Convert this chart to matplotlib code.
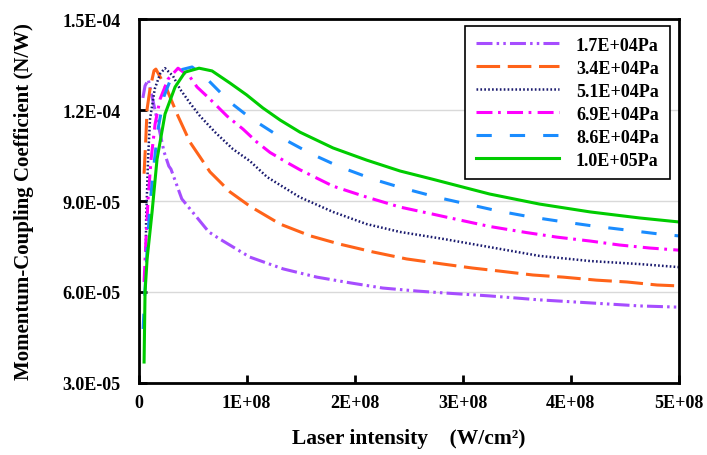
import matplotlib
matplotlib.use("Agg")
import matplotlib.pyplot as plt
from matplotlib.ticker import FuncFormatter, MultipleLocator

plt.rcParams['font.family'] = ['Liberation Serif', 'DejaVu Serif']
plt.rcParams['font.weight'] = 'bold'
plt.rcParams['axes.labelweight'] = 'bold'
plt.rcParams['lines.scale_dashes'] = False

# 데이터
labels = ["1.7E+04Pa", "3.4E+04Pa", "5.1E+04Pa", "6.9E+04Pa", "8.6E+04Pa", "1.0E+05Pa"]

x_17 = [4e6, 6e6, 9e6, 1.4e7, 2.36e7, 2.8e7, 3.0e7, 4.0e7, 6.5e7, 7.5e7, 1.03e8, 1.34e8, 1.65e8,
        1.96e8, 2.26e8, 2.58e8, 2.82e8, 3.25e8, 3.71e8, 4.18e8, 4.64e8, 5.0e8]
y_17 = [1.24e-4, 1.28e-4, 1.30e-4, 1.22e-4, 1.062e-4, 1.015e-4, 1.005e-4, 9.07e-5, 7.98e-5, 7.75e-5,
        7.15e-5, 6.76e-5, 6.49e-5, 6.30e-5, 6.13e-5, 6.03e-5, 5.97e-5, 5.87e-5, 5.74e-5, 5.64e-5,
        5.54e-5, 5.50e-5]

x_34 = [5.1e6, 6.7e6, 7.9e6, 1.06e7, 1.43e7, 1.6e7, 2.61e7, 3.65e7, 4.76e7, 5.69e7, 6.61e7, 7.54e7,
        8.46e7, 1.03e8, 1.31e8, 1.59e8, 1.86e8, 2.17e8, 2.48e8, 2.82e8, 3.09e8, 3.34e8, 3.65e8,
        3.93e8, 4.24e8, 4.52e8, 4.80e8, 5.0e8]
y_34 = [9.9e-5, 1.105e-4, 1.203e-4, 1.27e-4, 1.33e-4, 1.335e-4, 1.269e-4, 1.18e-4, 1.094e-4, 1.045e-4,
        9.96e-5, 9.63e-5, 9.30e-5, 8.83e-5, 8.24e-5, 7.85e-5, 7.58e-5, 7.32e-5, 7.09e-5, 6.92e-5,
        6.79e-5, 6.69e-5, 6.56e-5, 6.49e-5, 6.39e-5, 6.33e-5, 6.23e-5, 6.20e-5]

x_51 = [6.7e6, 7e6, 8.8e6, 1.06e7, 1.5e7, 2.0e7, 2.45e7, 3.19e7, 3.84e7, 4.76e7, 5.69e7, 7.08e7,
        8.74e7, 1.03e8, 1.19e8, 1.49e8, 1.80e8, 2.11e8, 2.42e8, 2.82e8, 3.25e8, 3.71e8, 4.18e8,
        4.64e8, 5.0e8]
y_51 = [7.32e-5, 8.4e-5, 1.04e-4, 1.17e-4, 1.27e-4, 1.32e-4, 1.338e-4, 1.312e-4, 1.269e-4, 1.223e-4,
        1.18e-4, 1.127e-4, 1.071e-4, 1.032e-4, 9.79e-5, 9.13e-5, 8.64e-5, 8.24e-5, 7.98e-5, 7.75e-5,
        7.48e-5, 7.19e-5, 7.02e-5, 6.92e-5, 6.82e-5]

x_69 = [5.1e6, 6.9e6, 8.8e6, 1.16e7, 1.53e7, 1.99e7, 2.73e7, 3.65e7, 4.76e7, 5.41e7, 6.61e7, 8.19e7,
        9.67e7, 1.096e8, 1.217e8, 1.374e8, 1.494e8, 1.80e8, 2.11e8, 2.42e8, 2.72e8, 2.86e8, 3.25e8,
        3.59e8, 3.87e8, 4.18e8, 4.45e8, 4.73e8, 5.0e8]
y_69 = [6.33e-5, 7.75e-5, 9.07e-5, 1.038e-4, 1.154e-4, 1.236e-4, 1.302e-4, 1.338e-4, 1.309e-4,
        1.276e-4, 1.236e-4, 1.18e-4, 1.137e-4, 1.094e-4, 1.060e-4, 1.027e-4, 1.003e-4, 9.49e-5,
        9.13e-5, 8.80e-5, 8.57e-5, 8.46e-5, 8.16e-5, 7.96e-5, 7.81e-5, 7.68e-5, 7.55e-5, 7.45e-5,
        7.38e-5]

x_86 = [4.2e6, 6e6, 7.9e6, 1.06e7, 1.43e7, 1.8e7, 2.36e7, 2.91e7, 3.84e7, 4.95e7, 6.15e7, 7.26e7,
        8.46e7, 1.03e8, 1.31e8, 1.59e8, 1.86e8, 2.17e8, 2.45e8, 2.79e8, 3.04e8, 3.33e8, 3.62e8,
        3.92e8, 4.20e8, 4.50e8, 4.80e8, 5.0e8]
y_86 = [4.78e-5, 6.1e-5, 7.42e-5, 8.9e-5, 1.022e-4, 1.137e-4, 1.246e-4, 1.296e-4, 1.332e-4, 1.342e-4,
        1.309e-4, 1.269e-4, 1.226e-4, 1.175e-4, 1.111e-4, 1.057e-4, 1.013e-4, 9.72e-5, 9.42e-5,
        9.10e-5, 8.90e-5, 8.67e-5, 8.48e-5, 8.32e-5, 8.18e-5, 8.05e-5, 7.92e-5, 7.85e-5]

x_100 = [5.1e6, 6e6, 7.9e6, 1.25e7, 1.71e7, 2.45e7, 3.38e7, 4.3e7, 5.6e7, 6.8e7, 8.46e7, 1.0e8,
         1.15e8, 1.31e8, 1.494e8, 1.80e8, 2.11e8, 2.42e8, 2.72e8, 3.25e8, 3.71e8, 4.18e8, 4.64e8, 5.0e8]
y_100 = [3.69e-5, 6.0e-5, 7.09e-5, 8.64e-5, 1.038e-4, 1.187e-4, 1.276e-4, 1.325e-4, 1.338e-4,
         1.329e-4, 1.289e-4, 1.250e-4, 1.207e-4, 1.167e-4, 1.127e-4, 1.075e-4, 1.035e-4, 9.99e-5,
         9.72e-5, 9.23e-5, 8.90e-5, 8.64e-5, 8.44e-5, 8.31e-5]

fig = plt.figure(figsize=(7.07, 4.56), dpi=100)
ax = fig.add_axes([0.196, 0.158, 0.764, 0.798])

ax.plot(x_17, y_17, color='#A64DFF', lw=2.2, dashes=(11.5, 3, 1.8, 3, 1.8, 3), label=labels[0])
ax.plot(x_34, y_34, color='#FF6319', lw=2.2, dashes=(17, 5.5), label=labels[1])
ax.plot(x_51, y_51, color='#1A1A6E', lw=1.8, dashes=(1.2, 1.6), label=labels[2])
ax.plot(x_69, y_69, color='#FF00FF', lw=2.2, dashes=(11.5, 4, 2, 4.5), label=labels[3])
ax.plot(x_86, y_86, color='#1A8CFF', lw=2.2, dashes=(11, 13), label=labels[4])
ax.plot(x_100, y_100, color='#00CC00', lw=2.2, label=labels[5])

ax.set_xlim(0, 5e8)
ax.set_ylim(3e-5, 1.5e-4)
ax.xaxis.set_major_locator(MultipleLocator(1e8))
ax.yaxis.set_major_locator(MultipleLocator(3e-5))
ax.xaxis.set_major_formatter(FuncFormatter(lambda v, p: "0" if v == 0 else "%.0E" % v))
ax.yaxis.set_major_formatter(FuncFormatter(lambda v, p: "%.1E" % v))

ax.grid(axis='y', color='#d9d9d9', lw=1)
ax.set_axisbelow(True)
ax.tick_params(axis='both', direction='in', length=6, width=2, labelsize=13)
ax.tick_params(axis='x', pad=8)
ax.tick_params(axis='y', pad=13)
for s in ax.spines.values():
    s.set_linewidth(2)

ax.set_ylabel("Momentum-Coupling Coefficient (N/W)", fontsize=15, labelpad=20)
ax.set_xlabel("Laser intensity    (W/cm²)", fontsize=15.5, labelpad=12)

leg = ax.legend(loc='upper right', bbox_to_anchor=(0.983, 0.981), fontsize=13, handlelength=4.6,
                labelspacing=0.33, borderpad=0.6, handletextpad=0.95, borderaxespad=0,
                fancybox=False, framealpha=1)
leg.get_frame().set_edgecolor('black')
leg.get_frame().set_linewidth(1.2)

fig.savefig("out.png", dpi=100)
